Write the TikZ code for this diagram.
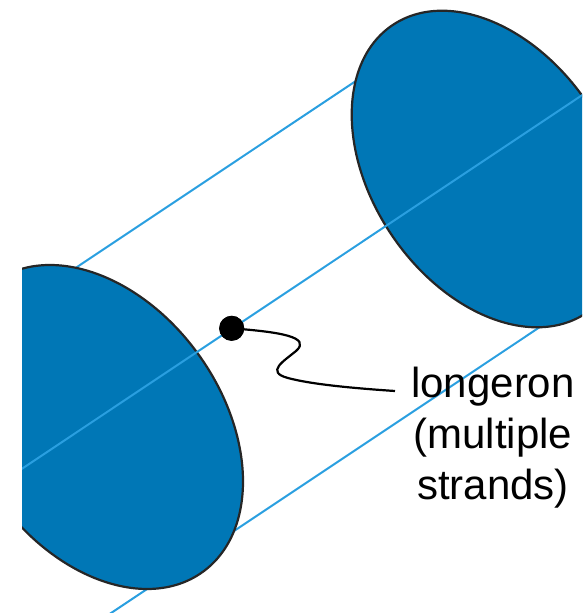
\documentclass[tikz,border=0pt]{standalone}
\usepackage{fontspec}
\setmainfont{Liberation Sans}
\definecolor{capfill}{HTML}{0077B6}
\definecolor{strand}{HTML}{2A9FE0}
\begin{document}
\begin{tikzpicture}[x=1pt,y=-1pt,
  strandline/.style={draw=strand,line width=2pt},
  capface/.style={fill=capfill,draw=black!85,line width=2.2pt},
  leader/.style={draw=black,line width=2.2pt},
  labeltext/.style={anchor=base,align=center,inner sep=0pt,font=\fontsize{42}{51}\selectfont}]
\useasboundingbox (0,0) rectangle (582,613);
\begin{scope}
  \clip (22,0) rectangle (582,613);
  % strand end points
  \coordinate (tA) at (0,318.4);
  \coordinate (tB) at (450,18.2);
  \coordinate (bA) at (100,620.4);
  \coordinate (bB) at (560,313.6);
  \coordinate (mA) at (0,483.4);
  \coordinate (mB) at (600,83.2);
  \coordinate (lc) at (98.5,427);
  \coordinate (rc) at (489.5,169);
  % hidden strands
  \draw[strandline] (tA) -- (tB);
  \draw[strandline] (bA) -- (bB);
  % end caps
  \draw[capface, rotate around={-54.4:(lc)}] (lc) ellipse [x radius=178.5, y radius=123.5];
  \draw[capface, rotate around={-56:(rc)}] (rc) ellipse [x radius=173.5, y radius=118];
  % front strand
  \draw[strandline] (mA) -- (mB);
\end{scope}
\node[circle,fill=black,minimum size=25pt,inner sep=0pt] (dot) at (231.7,328.3) {};
\coordinate (leaderend) at (395,391);
\draw[leader] (dot.center) .. controls (280,332) and (312,337) .. (296,351)
   .. controls (284,361) and (265,372) .. (288,378)
   .. controls (310,384) and (350,388) .. (leaderend);
\node[circle,fill=black,minimum size=25pt,inner sep=0pt] at (dot.center) {};
\node[labeltext] (label) at (493,499) {longeron\\(multiple\\strands)};
\end{tikzpicture}
\end{document}
